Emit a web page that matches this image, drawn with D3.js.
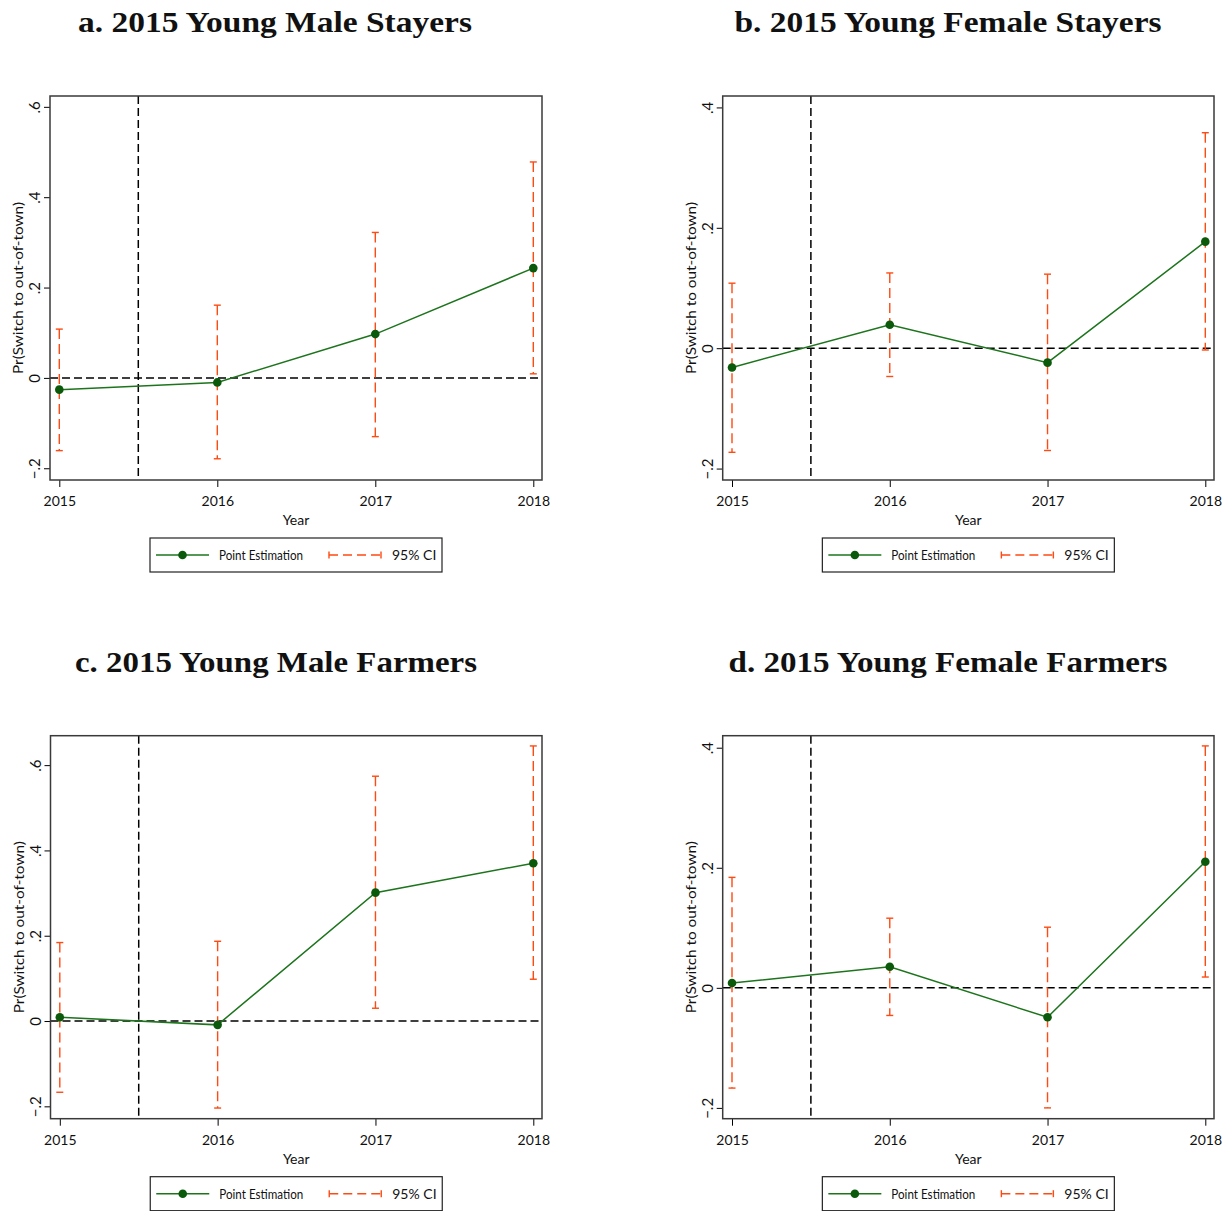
<!DOCTYPE html>
<html>
<head>
<meta charset="utf-8">
<script src="https://cdn.jsdelivr.net/npm/d3@7"></script>
<style>
  body { margin: 0; background: #fff; }
  text { font-family: Lato, "Liberation Sans", sans-serif; }
  .title { font-family: "Liberation Serif", "DejaVu Serif", serif; font-weight: bold; }
</style>
</head>
<body>
<div id="chart"></div>
<script>
// data
const years = [2015, 2016, 2017, 2018];
const policyYear = 2015.5;

const titles = [
  "a. 2015 Young Male Stayers",
  "b. 2015 Young Female Stayers",
  "c. 2015 Young Male Farmers",
  "d. 2015 Young Female Farmers"
];

// point estimates
const estMaleStayers = [-0.026, -0.010, 0.097, 0.243];
const estFemaleStayers = [-0.032, 0.039, -0.024, 0.177];
const estMaleFarmers = [0.009, -0.009, 0.301, 0.370];
const estFemaleFarmers = [0.008, 0.035, -0.049, 0.210];

// 95% CI bounds
const lowMaleStayers = [-0.161, -0.179, -0.130, 0.009];
const highMaleStayers = [0.108, 0.161, 0.322, 0.478];
const lowFemaleStayers = [-0.173, -0.047, -0.170, -0.003];
const highFemaleStayers = [0.108, 0.125, 0.123, 0.358];
const lowMaleFarmers = [-0.167, -0.204, 0.030, 0.098];
const highMaleFarmers = [0.184, 0.187, 0.574, 0.645];
const lowFemaleFarmers = [-0.167, -0.046, -0.200, 0.018];
const highFemaleFarmers = [0.184, 0.116, 0.101, 0.403];

// y axis ranges and ticks
const yDomainMale = [[-0.226, 0.624], [-0.229, 0.669]];
const yDomainFemale = [[-0.219, 0.419], [-0.218, 0.42]];
const yTicksMale = [-0.2, 0, 0.2, 0.4, 0.6];
const yTicksFemale = [-0.2, 0, 0.2, 0.4];

const yLabel = "Pr(Switch to out-of-town)";
const xLabel = "Year";
const legendLabels = ["Point Estimation", "95% CI"];

const lineColor = "#1d741d";
const markerColor = "#0b5a0b";
const ciColor = "#ff4a12";

const svgWidth = 1229;
const svgHeight = 1211;

const svg = d3.select("#chart")
  .append("svg")
  .attr("width", svgWidth)
  .attr("height", svgHeight);

// panel set up: plot box positions, title placement
const panels = [
  { title: titles[0], est: estMaleStayers, low: lowMaleStayers, high: highMaleStayers,
    yDomain: yDomainMale[0], yTicks: yTicksMale, left: 50, right: 542, top: 96, bottom: 480,
    titleX: 275, titleY: 32, titleW: 394 },
  { title: titles[1], est: estFemaleStayers, low: lowFemaleStayers, high: highFemaleStayers,
    yDomain: yDomainFemale[0], yTicks: yTicksFemale, left: 722.7, right: 1214, top: 96, bottom: 480,
    titleX: 948, titleY: 32, titleW: 427 },
  { title: titles[2], est: estMaleFarmers, low: lowMaleFarmers, high: highMaleFarmers,
    yDomain: yDomainMale[1], yTicks: yTicksMale, left: 50.5, right: 542, top: 735.7, bottom: 1118.7,
    titleX: 276, titleY: 672, titleW: 402 },
  { title: titles[3], est: estFemaleFarmers, low: lowFemaleFarmers, high: highFemaleFarmers,
    yDomain: yDomainFemale[1], yTicks: yTicksFemale, left: 722.7, right: 1214, top: 735.7, bottom: 1118.7,
    titleX: 948, titleY: 672, titleW: 439 }
];

const fmt = d => d === 0 ? "0" : d3.format(".1f")(d).replace("0.", ".");

panels.forEach(function(p) {
  const g = svg.append("g");
  const cx = (p.left + p.right) / 2;

  const xScale = d3.scaleLinear()
    .domain([2015, 2018])
    .range([p.left + 9.3, p.right - 8.7]);

  const yScale = d3.scaleLinear()
    .domain(p.yDomain)
    .range([p.bottom, p.top]);

  // title
  g.append("text")
    .attr("class", "title")
    .attr("x", p.titleX)
    .attr("y", p.titleY)
    .attr("text-anchor", "middle")
    .attr("textLength", p.titleW)
    .attr("lengthAdjust", "spacingAndGlyphs")
    .style("font-size", "29px")
    .attr("fill", "#111")
    .text(p.title);

  // x axis
  const xAxis = g.append("g")
    .attr("transform", `translate(0, ${p.bottom})`)
    .call(d3.axisBottom(xScale).tickValues(years).tickFormat(d3.format("d")).tickSize(7).tickPadding(9));
  xAxis.select(".domain").remove();
  xAxis.selectAll("text").style("font-size", "14px").attr("fill", "#111");

  // y axis with rotated labels
  const yAxis = g.append("g")
    .attr("transform", `translate(${p.left}, 0)`)
    .call(d3.axisLeft(yScale).tickValues(p.yTicks).tickFormat(fmt).tickSize(6));
  yAxis.select(".domain").remove();
  yAxis.selectAll("text")
    .attr("x", null)
    .attr("dy", null)
    .attr("text-anchor", "middle")
    .attr("transform", "translate(-10, 0) rotate(-90)")
    .style("font-size", "15px")
    .attr("fill", "#111");

  // axis titles
  g.append("text")
    .attr("transform", `translate(${p.left - 27}, ${(p.top + p.bottom) / 2}) rotate(-90)`)
    .attr("text-anchor", "middle")
    .attr("textLength", 172)
    .attr("lengthAdjust", "spacingAndGlyphs")
    .style("font-size", "14px")
    .attr("fill", "#111")
    .text(yLabel);

  g.append("text")
    .attr("x", cx)
    .attr("y", p.bottom + 45)
    .attr("text-anchor", "middle")
    .style("font-size", "14px")
    .attr("fill", "#111")
    .text(xLabel);

  // reference lines
  g.append("line")
    .attr("x1", p.left).attr("x2", p.right)
    .attr("y1", yScale(0)).attr("y2", yScale(0))
    .attr("stroke", "#000")
    .attr("stroke-width", 1.5)
    .attr("stroke-dasharray", "8,4");

  g.append("line")
    .attr("x1", xScale(policyYear)).attr("x2", xScale(policyYear))
    .attr("y1", p.top).attr("y2", p.bottom)
    .attr("stroke", "#000")
    .attr("stroke-width", 1.5)
    .attr("stroke-dasharray", "8,4");

  // confidence intervals
  const ci = g.selectAll(".ci")
    .data(years.map((y, i) => ({ year: y, low: p.low[i], high: p.high[i] })))
    .enter()
    .append("g")
    .attr("class", "ci");

  ci.append("line")
    .attr("x1", d => xScale(d.year)).attr("x2", d => xScale(d.year))
    .attr("y1", d => yScale(d.high)).attr("y2", d => yScale(d.low))
    .attr("stroke", ciColor)
    .attr("stroke-width", 1.4)
    .attr("stroke-dasharray", "10,5");

  ["low", "high"].forEach(function(k) {
    ci.append("line")
      .attr("x1", d => xScale(d.year) - 3.5).attr("x2", d => xScale(d.year) + 3.5)
      .attr("y1", d => yScale(d[k])).attr("y2", d => yScale(d[k]))
      .attr("stroke", ciColor)
      .attr("stroke-width", 1.4);
  });

  // point estimate line and markers
  const line = d3.line()
    .x((d, i) => xScale(years[i]))
    .y(d => yScale(d));

  g.append("path")
    .datum(p.est)
    .attr("d", line)
    .attr("fill", "none")
    .attr("stroke", lineColor)
    .attr("stroke-width", 1.5);

  g.selectAll(".pt")
    .data(p.est)
    .enter()
    .append("circle")
    .attr("class", "pt")
    .attr("cx", (d, i) => xScale(years[i]))
    .attr("cy", d => yScale(d))
    .attr("r", 4.3)
    .attr("fill", markerColor);

  // plot frame
  g.append("rect")
    .attr("x", p.left).attr("y", p.top)
    .attr("width", p.right - p.left)
    .attr("height", p.bottom - p.top)
    .attr("fill", "none")
    .attr("stroke", "#3a3a3a")
    .attr("stroke-width", 1.5);

  // legend
  const ly = p.bottom + 75;
  const legend = g.append("g");
  legend.append("rect")
    .attr("x", cx - 146).attr("y", p.bottom + 58)
    .attr("width", 292).attr("height", 34)
    .attr("fill", "#fff")
    .attr("stroke", "#222")
    .attr("stroke-width", 1.2);

  legend.append("line")
    .attr("x1", cx - 140).attr("x2", cx - 87)
    .attr("y1", ly).attr("y2", ly)
    .attr("stroke", lineColor)
    .attr("stroke-width", 1.5);
  legend.append("circle")
    .attr("cx", cx - 113.5).attr("cy", ly)
    .attr("r", 4.3)
    .attr("fill", markerColor);
  legend.append("text")
    .attr("x", cx - 77).attr("y", ly + 5)
    .style("font-size", "14px")
    .attr("textLength", 84)
    .attr("lengthAdjust", "spacingAndGlyphs")
    .attr("fill", "#111")
    .text(legendLabels[0]);

  legend.append("line")
    .attr("x1", cx + 33).attr("x2", cx + 85)
    .attr("y1", ly).attr("y2", ly)
    .attr("stroke", ciColor)
    .attr("stroke-width", 1.4)
    .attr("stroke-dasharray", "9,5");
  [cx + 33, cx + 85].forEach(function(x) {
    legend.append("line")
      .attr("x1", x).attr("x2", x)
      .attr("y1", ly - 3.5).attr("y2", ly + 3.5)
      .attr("stroke", ciColor)
      .attr("stroke-width", 1.4);
  });
  legend.append("text")
    .attr("x", cx + 96).attr("y", ly + 5)
    .style("font-size", "14px")
    .attr("fill", "#111")
    .text(legendLabels[1]);
});
</script>
</body>
</html>
